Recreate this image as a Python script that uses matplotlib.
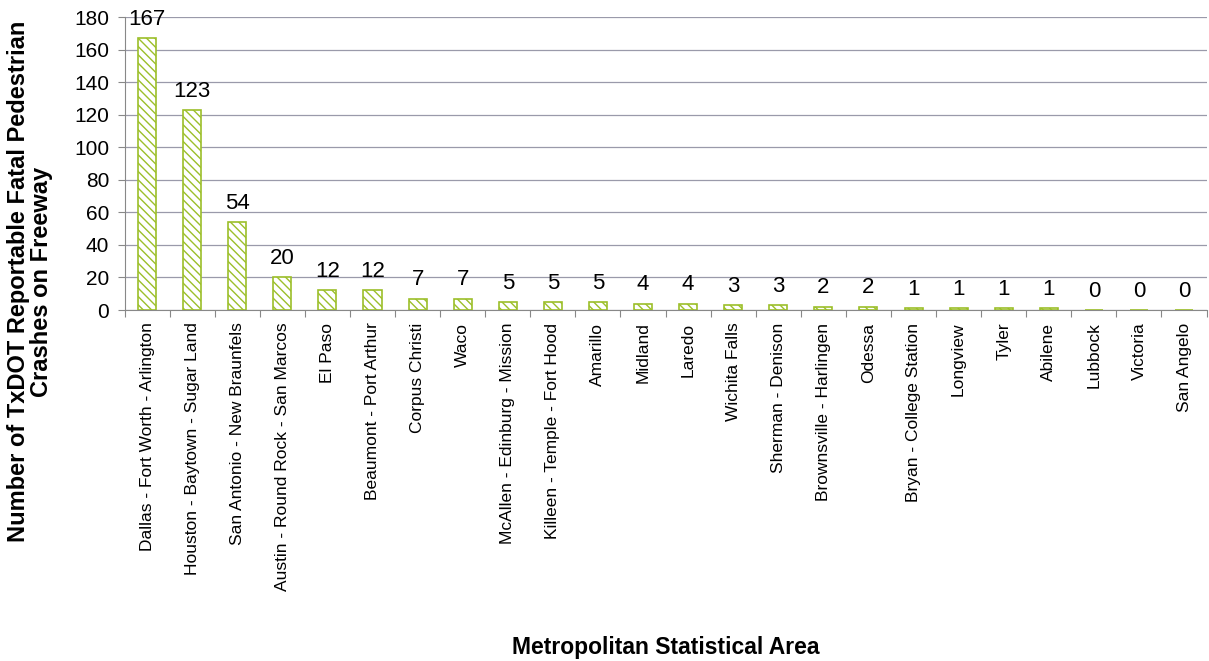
import numpy as np
import matplotlib.pyplot as plt

plt.rcParams['font.family'] = ['Liberation Sans', 'DejaVu Sans']
plt.rcParams['hatch.linewidth'] = 1.0

areas = ["Dallas - Fort Worth - Arlington", "Houston - Baytown - Sugar Land",
         "San Antonio - New Braunfels", "Austin - Round Rock - San Marcos",
         "El Paso", "Beaumont - Port Arthur", "Corpus Christi", "Waco",
         "McAllen - Edinburg - Mission", "Killeen - Temple - Fort Hood",
         "Amarillo", "Midland", "Laredo", "Wichita Falls", "Sherman - Denison",
         "Brownsville - Harlingen", "Odessa", "Bryan - College Station",
         "Longview", "Tyler", "Abilene", "Lubbock", "Victoria", "San Angelo"]
crashes = [167, 123, 54, 20, 12, 12, 7, 7, 5, 5, 5, 4, 4, 3, 3, 2, 2, 1, 1, 1, 1, 0, 0, 0]

green = '#9cbf2a'
plt.rcParams['hatch.color'] = '#7f9f1a'

fig = plt.figure(figsize=(12.09, 6.61), dpi=100)
ax = fig.add_axes([0.103, 0.531, 0.895, 0.443])

x = np.arange(len(areas))
ax.bar(x, crashes, width=0.4, color='white', edgecolor=green, hatch='\\\\\\\\',
       linewidth=1.2, zorder=3)
for xi, v in zip(x, crashes):
    ax.annotate(str(v), (xi, v), xytext=(0, 6), textcoords='offset points',
                ha='center', va='bottom', fontsize=16, zorder=4)

ax.set_xlim(-0.5, len(areas) - 0.5)
ax.set_ylim(0, 180)
ax.set_yticks(range(0, 181, 20))
ax.yaxis.grid(True, color='#9a9aaa', linewidth=0.9, zorder=0)
ax.set_xticks(np.arange(-0.5, len(areas), 1), minor=False)
ax.set_xticklabels([])
ax.set_xticks(x, minor=True)
ax.set_xticklabels(areas, minor=True, rotation=90, fontsize=12.5)
ax.tick_params(axis='x', which='minor', length=0, pad=9)
ax.tick_params(axis='x', which='major', length=5, color='#888888', direction='out')
ax.tick_params(axis='y', labelsize=15, length=5, color='#888888', direction='out', pad=6)
for s in ['top', 'right']:
    ax.spines[s].set_visible(False)
for s in ['left', 'bottom']:
    ax.spines[s].set_color('#888888')

fig.text(0.025, 0.574, 'Number of TxDOT Reportable Fatal Pedestrian\nCrashes on Freeway',
         rotation=90, ha='center', va='center', multialignment='center',
         fontsize=17, fontweight='bold', linespacing=1.0)
fig.text(0.551, 0.02, 'Metropolitan Statistical Area', ha='center', va='center',
         fontsize=16.5, fontweight='bold')

plt.savefig('out.png', dpi=100)
